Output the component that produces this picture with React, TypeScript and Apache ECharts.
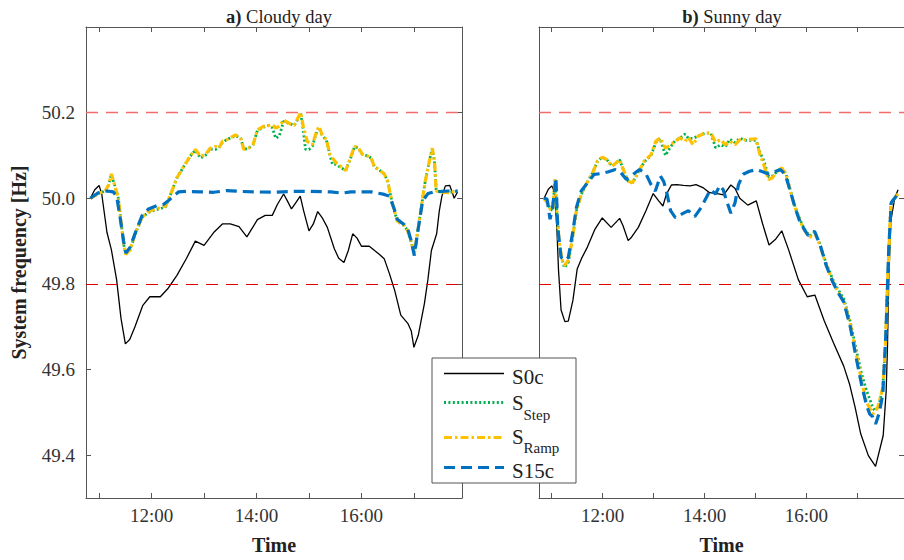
import { useEffect, useRef } from "react";
import * as echarts from "echarts";

// ---- axes (time in minutes since midnight) ----
const X_MIN = 645; // 10:45
const X_MAX = 1075; // 17:55
const Y_MIN = 49.3;
const Y_MAX = 50.4;
const hourTicks = [660, 720, 780, 840, 900, 960, 1020];
const hourLabels = [720, 840, 960];
const freqTicks = [49.4, 49.6, 49.8, 50.0, 50.2];
const upperLimit = 50.2;
const lowerLimit = 49.8;

const panelTags = ["a)", "b)"];
const panelNames = ["Cloudy day", "Sunny day"];
const seriesNames = ["S0c", "S_Step", "S_Ramp", "S15c"];

// ---- a) Cloudy day ----
const cloudyS0c: [number, number][] = [
  [650, 50.0], [655, 50.02], [660, 50.03], [663, 50.01], [669, 49.92], [674, 49.88], [680, 49.81],
  [685, 49.72], [690, 49.66], [695, 49.67], [701, 49.7], [710, 49.75], [718, 49.77], [730, 49.77],
  [739, 49.79], [749, 49.82], [760, 49.86], [770, 49.9], [780, 49.89], [791, 49.92], [801, 49.94],
  [810, 49.94], [820, 49.934], [829, 49.91], [841, 49.95], [850, 49.96], [858, 49.96], [864, 49.986],
  [871, 50.01], [875, 49.995], [880, 49.975], [885, 49.99], [890, 50.005], [894, 49.97], [900, 49.924],
  [905, 49.94], [910, 49.969], [915, 49.955], [921, 49.932], [929, 49.882], [934, 49.86], [940, 49.85],
  [945, 49.878], [950, 49.917], [955, 49.907], [960, 49.888], [969, 49.888], [975, 49.878], [980, 49.87],
  [986, 49.859], [992, 49.824], [998, 49.785], [1005, 49.727], [1013, 49.708], [1017, 49.69],
  [1020, 49.652], [1025, 49.68], [1032, 49.754], [1036, 49.81], [1040, 49.878], [1046, 49.917],
  [1049, 49.97], [1052, 50.005], [1056, 50.029], [1061, 50.03], [1064, 50.013], [1066, 50.0], [1070, 50.015],
];
const cloudyStep: [number, number][] = [
  [650, 50.0], [659, 50.011], [667, 50.017], [671, 50.032], [674, 50.055], [678, 50.029], [682, 50.0],
  [685, 49.947], [688, 49.893], [690.5, 49.871], [695.5, 49.88], [701, 49.915], [709, 49.955],
  [715, 49.965], [720, 49.97], [730, 49.976], [736, 49.98], [741, 50.005], [749, 50.048], [757, 50.075],
  [764, 50.098], [770, 50.112], [776, 50.094], [781.5, 50.1], [787, 50.115], [793, 50.114], [797, 50.118],
  [801, 50.13], [806, 50.137], [816, 50.146], [822, 50.14], [825.5, 50.114], [831, 50.117], [836, 50.125],
  [841, 50.158], [848, 50.166], [854, 50.17], [858, 50.165], [862, 50.14], [866, 50.145], [871, 50.18],
  [877, 50.175], [883, 50.17], [887.5, 50.186], [890.5, 50.198], [893.5, 50.16], [896, 50.114],
  [900, 50.114], [904, 50.122], [908, 50.15], [911.5, 50.165], [915, 50.148], [920, 50.135],
  [924, 50.1], [927, 50.079], [931, 50.079], [936, 50.072], [942, 50.065], [948, 50.096], [952, 50.12],
  [956, 50.118], [961, 50.103], [968, 50.098], [971, 50.094], [975, 50.073], [980, 50.067], [986, 50.057],
  [990, 50.04], [993, 50.009], [997, 49.975], [1001, 49.947], [1009, 49.936], [1013, 49.924],
  [1017, 49.897], [1020.5, 49.872], [1024, 49.917], [1029, 49.986], [1033, 50.04], [1038, 50.09],
  [1041, 50.115], [1043.5, 50.087], [1045.5, 50.017], [1051, 50.015], [1059, 50.013], [1070, 50.017],
];
const cloudyRamp: [number, number][] = [
  [650, 50.0], [659, 50.011], [667, 50.017], [671, 50.032], [674, 50.057], [678, 50.029], [682, 50.0],
  [685, 49.947], [688, 49.893], [690.5, 49.869], [695.5, 49.88], [701, 49.917], [709, 49.955],
  [715, 49.967], [720, 49.972], [730, 49.978], [736, 49.982], [741, 50.005], [749, 50.048], [757, 50.075],
  [764, 50.098], [770, 50.114], [776, 50.098], [781.5, 50.102], [787, 50.117], [793, 50.121],
  [797, 50.117], [801, 50.133], [806, 50.137], [816, 50.148], [822, 50.14], [825.5, 50.114], [831, 50.117],
  [836, 50.125], [841, 50.16], [848, 50.168], [854, 50.17], [858, 50.172], [862, 50.164], [866, 50.168],
  [871, 50.183], [877, 50.175], [883, 50.17], [887.5, 50.188], [890.5, 50.2], [893.5, 50.168],
  [898, 50.133], [904, 50.125], [908, 50.152], [911.5, 50.168], [915, 50.148], [920, 50.137],
  [924, 50.102], [931, 50.083], [936, 50.075], [942, 50.065], [948, 50.098], [952, 50.121], [956, 50.119],
  [961, 50.103], [968, 50.098], [971, 50.094], [975, 50.073], [980, 50.067], [986, 50.057], [990, 50.04],
  [993, 50.009], [997, 49.975], [1001, 49.947], [1009, 49.936], [1013, 49.924], [1017, 49.897],
  [1020.5, 49.87], [1024, 49.917], [1029, 49.986], [1033, 50.04], [1038, 50.09], [1041, 50.117],
  [1043.5, 50.087], [1045.5, 50.017], [1051, 50.015], [1059, 50.013], [1070, 50.017],
];
const cloudyS15c: [number, number][] = [
  [650, 50.0], [659, 50.013], [669, 50.017], [676, 50.015], [680, 50.005], [684, 49.955], [688, 49.9],
  [690.5, 49.872], [695.5, 49.886], [701, 49.917], [709, 49.959], [716.5, 49.975], [726, 49.983],
  [734, 49.986], [739, 49.994], [745, 50.005], [751, 50.015], [760, 50.016], [776, 50.015], [791, 50.014],
  [806, 50.018], [822, 50.016], [837, 50.015], [860, 50.014], [879, 50.016], [902, 50.016], [925, 50.015],
  [938, 50.012], [948, 50.015], [971, 50.015], [978.5, 50.012], [986, 50.009], [992, 50.005],
  [997, 49.978], [1001, 49.951], [1009, 49.938], [1013, 49.928], [1017, 49.9], [1020.5, 49.866],
  [1024, 49.917], [1030, 49.994], [1036, 50.011], [1043.5, 50.015], [1059, 50.017], [1070, 50.017],
];

// ---- b) Sunny day ----
const sunnyS0c: [number, number][] = [
  [651, 50.0], [656, 50.021], [660, 50.029], [663, 50.017], [666, 49.932], [668, 49.832], [671, 49.739],
  [675.5, 49.712], [679.5, 49.713], [685, 49.762], [690, 49.835], [695, 49.859], [702, 49.886],
  [711, 49.928], [719.5, 49.954], [730, 49.932], [740, 49.953], [744, 49.936], [750, 49.901],
  [754, 49.909], [762, 49.932], [771, 49.971], [779.5, 50.011], [786, 49.994], [791, 49.982],
  [795, 50.009], [801, 50.031], [807.5, 50.032], [815, 50.03], [823, 50.029], [830, 50.032],
  [838, 50.025], [846, 50.013], [855, 50.011], [862.5, 50.008], [871, 50.031], [876, 50.023],
  [881.5, 50.0], [891, 49.984], [901, 49.994], [908.5, 49.94], [916, 49.891], [924, 49.905],
  [931, 49.924], [939, 49.88], [950.5, 49.81], [961, 49.77], [970, 49.774], [981, 49.714], [992, 49.662],
  [1004, 49.608], [1011, 49.565], [1017.5, 49.511], [1024, 49.45], [1033, 49.399], [1041.5, 49.374],
  [1050.5, 49.446], [1054, 49.55], [1055.5, 49.65], [1057, 49.805], [1059.5, 49.947], [1064, 50.0],
  [1068, 50.02],
];
const sunnyStep: [number, number][] = [
  [651, 50.0], [656, 49.986], [658, 49.975], [661, 49.972], [664, 50.044], [666, 49.971], [668.7, 49.9],
  [671.7, 49.86], [675, 49.838], [679.5, 49.85], [684, 49.9], [689, 49.971], [694.7, 50.009],
  [700.4, 50.032], [708, 50.059], [714, 50.087], [719.5, 50.096], [725, 50.09], [731, 50.075],
  [736, 50.083], [740, 50.09], [744.4, 50.067], [750, 50.04], [755, 50.036], [761.6, 50.059],
  [769, 50.085], [777, 50.1], [782.6, 50.13], [787.6, 50.14], [794, 50.1], [800, 50.12], [805.6, 50.135],
  [811, 50.14], [817, 50.15], [821, 50.14], [826.6, 50.14], [832, 50.145], [840, 50.152], [847.5, 50.152],
  [853, 50.118], [859, 50.125], [864.5, 50.12], [870, 50.138], [876, 50.13], [881.7, 50.14],
  [889.4, 50.135], [900.8, 50.135], [904.7, 50.11], [910.4, 50.085], [915.4, 50.05], [920, 50.052],
  [925.7, 50.063], [930.7, 50.071], [936, 50.058], [941, 50.02], [946.7, 49.98], [952.5, 49.95],
  [958, 49.926], [964, 49.912], [969.7, 49.922], [975.4, 49.896], [983, 49.85], [990.7, 49.812],
  [996.4, 49.79], [1004, 49.765], [1011.7, 49.712], [1019.4, 49.64], [1025, 49.59], [1031, 49.55],
  [1038.5, 49.51], [1041, 49.503], [1046, 49.52], [1050, 49.56], [1053, 49.65], [1055.7, 49.805],
  [1059.5, 49.986], [1063.5, 50.0], [1068, 50.01],
];
const sunnyRamp: [number, number][] = [
  [651, 50.0], [656, 49.986], [658, 49.975], [661, 49.972], [664, 50.044], [666, 49.971], [668.7, 49.9],
  [671.7, 49.859], [675, 49.843], [679.5, 49.855], [684, 49.9], [689, 49.971], [694.7, 50.009],
  [700.4, 50.032], [708, 50.059], [714, 50.087], [719.5, 50.096], [725, 50.09], [731, 50.075],
  [736, 50.083], [740, 50.09], [744.4, 50.067], [750, 50.04], [755, 50.036], [761.6, 50.059],
  [769, 50.087], [777, 50.102], [782.6, 50.133], [787.6, 50.141], [794, 50.117], [800, 50.125],
  [805.6, 50.133], [811, 50.141], [817, 50.133], [821, 50.142], [826.6, 50.125], [832, 50.144],
  [840, 50.152], [847.5, 50.152], [853, 50.131], [859, 50.137], [864.5, 50.125], [870, 50.133],
  [876, 50.125], [881.7, 50.137], [889.4, 50.137], [900.8, 50.139], [904.7, 50.106], [910.4, 50.075],
  [915.4, 50.044], [920, 50.048], [925.7, 50.063], [930.7, 50.071], [936, 50.056], [941, 50.017],
  [946.7, 49.978], [952.5, 49.947], [958, 49.924], [964, 49.909], [969.7, 49.92], [975.4, 49.893],
  [983, 49.847], [990.7, 49.808], [996.4, 49.785], [1004, 49.76], [1011.7, 49.706], [1019.4, 49.63],
  [1025, 49.573], [1031, 49.523], [1038.5, 49.496], [1044, 49.511], [1050, 49.558], [1053, 49.65],
  [1055.7, 49.805], [1059.5, 49.986], [1063.5, 50.0], [1068, 50.01],
];
const sunnyS15c: [number, number][] = [
  [651, 50.0], [654.5, 49.998], [658, 49.951], [661, 49.978], [665, 50.048], [667, 49.932], [671, 49.862],
  [675.5, 49.855], [679.5, 49.862], [685, 49.924], [689, 49.978], [694.7, 50.017], [702, 50.036],
  [710, 50.056], [719.5, 50.058], [727, 50.062], [735, 50.067], [740.5, 50.062], [748, 50.044],
  [756, 50.056], [763.5, 50.067], [771, 50.057], [777, 50.032], [782, 50.017], [788, 50.052],
  [792, 50.039], [796, 50.009], [800, 49.971], [805.6, 49.955], [813, 49.963], [821, 49.971],
  [828.5, 49.957], [836, 49.978], [844, 50.009], [847, 50.02], [853, 50.01], [858, 50.03], [862, 50.02],
  [865, 50.0], [871, 49.965], [876, 49.99], [880, 50.032], [885.5, 50.056], [893, 50.063], [901, 50.067],
  [908.5, 50.062], [916, 50.056], [924, 50.063], [929.5, 50.067], [935, 50.056], [941, 50.017],
  [946.7, 49.978], [952.5, 49.944], [962, 49.913], [969.7, 49.923], [977, 49.886], [983, 49.845],
  [990.7, 49.806], [996.4, 49.783], [1004, 49.758], [1011.7, 49.7], [1019.4, 49.62], [1025, 49.565],
  [1031, 49.515], [1034.7, 49.496], [1038, 49.49], [1041.6, 49.473], [1046, 49.5], [1050, 49.542],
  [1053.8, 49.689], [1057, 49.882], [1060, 49.99], [1064, 50.0], [1068, 50.01],
];

const panelData = [
  [cloudyS0c, cloudyStep, cloudyRamp, cloudyS15c],
  [sunnyS0c, sunnyStep, sunnyRamp, sunnyS15c],
];

// ---- styles ----
const FONT = "Liberation Serif";
const AXIS_COLOR = "#555";
const LABEL_COLOR = "#333";
const GRID_TOP = 27;
const GRID_H = 474;
const GRID_W = 376;
const GRID_LEFTS = [86, 539];

const lineStyles = [
  { color: "#000000", width: 1.3, type: "solid" as any },
  { color: "#00b050", width: 2.8, type: [2, 2.4] as any },
  { color: "#ffc000", width: 3.2, type: [8, 3, 2.5, 3] as any },
  { color: "#0070c0", width: 3.2, type: [11, 6] as any },
];

const fmtTime = (v: number) => {
  const h = Math.floor(v / 60);
  const m = Math.round(v - h * 60);
  return `${h}:${m < 10 ? "0" + m : m}`;
};

function buildOption() {
  const grid: any[] = [];
  const xAxis: any[] = [];
  const yAxis: any[] = [];
  const series: any[] = [];
  const title: any[] = [];

  GRID_LEFTS.forEach((left, p) => {
    grid.push({ left, top: GRID_TOP, width: GRID_W, height: GRID_H, containLabel: false });
    title.push({
      text: `{b|${panelTags[p]}}{n| ${panelNames[p]}}`,
      left: left + GRID_W / 2,
      top: 2,
      textAlign: "center",
      textStyle: {
        fontFamily: FONT,
        fontSize: 18.5,
        fontWeight: "normal",
        color: "#222",
        rich: {
          b: { fontFamily: FONT, fontSize: 18.5, fontWeight: "bold", color: "#222" },
          n: { fontFamily: FONT, fontSize: 18.5, fontWeight: "normal", color: "#222" },
        },
      },
    });
    const commonX = {
      type: "value",
      gridIndex: p,
      min: X_MIN,
      max: X_MAX,
      splitLine: { show: false },
      axisLine: { show: true, onZero: false, lineStyle: { color: AXIS_COLOR, width: 1 } },
    };
    xAxis.push({
      ...commonX,
      position: "bottom",
      axisTick: { show: true, inside: true, length: 5, customValues: hourTicks, lineStyle: { color: AXIS_COLOR } },
      axisLabel: {
        show: true,
        customValues: hourLabels,
        formatter: (v: number) => fmtTime(v),
        fontFamily: FONT,
        fontSize: 19,
        color: LABEL_COLOR,
        margin: 8,
      },
      name: "Time",
      nameLocation: "middle",
      nameGap: 37,
      nameTextStyle: { fontFamily: FONT, fontSize: 20, fontWeight: "bold", color: "#222" },
    });
    xAxis.push({
      ...commonX,
      position: "top",
      axisTick: { show: true, inside: true, length: 5, customValues: hourTicks, lineStyle: { color: AXIS_COLOR } },
      axisLabel: { show: false },
    });
    const commonY = {
      type: "value",
      gridIndex: p,
      min: Y_MIN,
      max: Y_MAX,
      splitLine: { show: false },
      axisLine: { show: true, onZero: false, lineStyle: { color: AXIS_COLOR, width: 1 } },
    };
    yAxis.push({
      ...commonY,
      position: "left",
      axisTick: { show: true, inside: true, length: 5, customValues: freqTicks, lineStyle: { color: AXIS_COLOR } },
      axisLabel: {
        show: p === 0,
        customValues: freqTicks,
        formatter: (v: number) => v.toFixed(1),
        fontFamily: FONT,
        fontSize: 19,
        color: LABEL_COLOR,
        margin: 11,
      },
      name: p === 0 ? "System frequency [Hz]" : "",
      nameLocation: "middle",
      nameRotate: 90,
      nameGap: 57,
      nameTextStyle: { fontFamily: FONT, fontSize: 20, fontWeight: "bold", color: "#222" },
    });
    yAxis.push({
      ...commonY,
      position: "right",
      axisTick: { show: true, inside: true, length: 5, customValues: freqTicks, lineStyle: { color: AXIS_COLOR } },
      axisLabel: { show: false },
    });

    panelData[p].forEach((data, s) => {
      const ser: any = {
        type: "line",
        name: seriesNames[s],
        xAxisIndex: p * 2,
        yAxisIndex: p * 2,
        data,
        showSymbol: false,
        symbol: "none",
        silent: true,
        lineStyle: lineStyles[s],
        z: 3 + s,
      };
      if (s === 0) {
        ser.markLine = {
          silent: true,
          symbol: ["none", "none"],
          label: { show: false },
          animation: false,
          data: [
            { yAxis: upperLimit, lineStyle: { color: "#f26b6b", width: 1.4, type: [12, 8] } },
            { yAxis: lowerLimit, lineStyle: { color: "#e00000", width: 1, type: [12, 8] } },
          ],
        };
      }
      series.push(ser);
    });
  });

  // legend box (drawn with graphics to reproduce the subscripts)
  const LX = 432;
  const LY = 358;
  const rowY = [373.5, 402.5, 437.5, 467.5];
  const graphic: any[] = [
    {
      type: "rect",
      z: 100,
      shape: { x: LX, y: LY, width: 144, height: 125 },
      style: { fill: "#fff", stroke: AXIS_COLOR, lineWidth: 1 },
    },
  ];
  rowY.forEach((y, i) => {
    graphic.push({
      type: "line",
      z: 101,
      shape: { x1: 444, y1: y, x2: 504, y2: y },
      style: {
        stroke: lineStyles[i].color,
        lineWidth: lineStyles[i].width,
        lineDash: Array.isArray(lineStyles[i].type) ? lineStyles[i].type : null,
      },
    });
  });
  const mainFont = { fontFamily: FONT, fontSize: 21, fill: "#222" };
  const subFont = { fontFamily: FONT, fontSize: 15, fill: "#222" };
  graphic.push(
    { type: "text", z: 101, x: 512, y: 377, style: { ...mainFont, text: "S0c", verticalAlign: "middle" } },
    { type: "text", z: 101, x: 512, y: 402.5, style: { ...mainFont, text: "S", verticalAlign: "middle" } },
    { type: "text", z: 101, x: 523.5, y: 415, style: { ...subFont, text: "Step", verticalAlign: "middle" } },
    { type: "text", z: 101, x: 512, y: 436.5, style: { ...mainFont, text: "S", verticalAlign: "middle" } },
    { type: "text", z: 101, x: 523.5, y: 447.5, style: { ...subFont, text: "Ramp", verticalAlign: "middle" } },
    { type: "text", z: 101, x: 512, y: 471, style: { ...mainFont, text: "S15c", verticalAlign: "middle" } }
  );

  return {
    animation: false,
    backgroundColor: "#ffffff",
    textStyle: { fontFamily: FONT },
    title,
    grid,
    xAxis,
    yAxis,
    series,
    graphic,
  };
}

export default function App() {
  const ref = useRef<HTMLDivElement>(null);
  useEffect(() => {
    if (!ref.current) return;
    const chart = echarts.init(ref.current, undefined, { renderer: "svg" });
    chart.setOption(buildOption() as any);
    return () => chart.dispose();
  }, []);
  return (
    <div
      ref={ref}
      style={{ position: "fixed", left: 0, top: 0, width: 904, height: 560, overflow: "hidden", background: "#fff" }}
    />
  );
}
